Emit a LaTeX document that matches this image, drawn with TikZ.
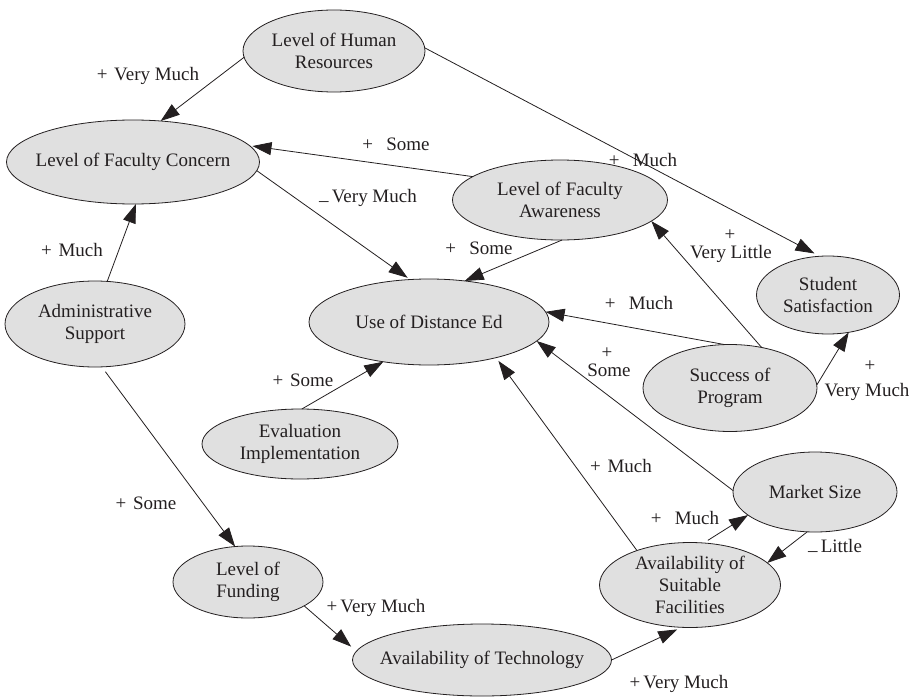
\documentclass[tikz,border=0pt]{standalone}
\usepackage{fontspec}
\setmainfont{Liberation Serif}
\usetikzlibrary{shapes.geometric,arrows.meta}
\definecolor{nodefill}{RGB}{224,224,224}
\definecolor{ink}{RGB}{35,31,32}
\newcommand{\sgn}{\hspace{0.35em}}
\newcommand{\minussign}{\raisebox{-0.22em}{–}}
\begin{document}
\begin{tikzpicture}[x=1pt,y=-1pt,
  bubble/.style={ellipse,draw=ink,line width=0.8pt,fill=nodefill,inner sep=0pt,outer sep=0pt},
  caption/.style={text=ink,align=center,font=\fontsize{19}{22}\selectfont,inner sep=0pt},
  lbl/.style={text=ink,font=\fontsize{19}{22}\selectfont,inner sep=0pt},
  link/.style={draw=ink,line width=0.8pt,-{Triangle[length=19pt,width=13pt]}},
]
\useasboundingbox (0,0) rectangle (923,698);

% factors
\node[bubble,minimum width=182pt,minimum height=82pt] (hr) at (334,51) {};
\node[caption] (hr-t) at (hr) {Level of Human\\Resources};
\node[bubble,minimum width=253pt,minimum height=84pt] (fc) at (133,162) {};
\node[caption] (fc-t) at (fc) {Level of Faculty Concern};
\node[bubble,minimum width=215pt,minimum height=80pt] (aw) at (560,200) {};
\node[caption] (aw-t) at (aw) {Level of Faculty\\Awareness};
\node[bubble,minimum width=143pt,minimum height=78pt] (ss) at (828,295) {};
\node[caption] (ss-t) at (ss) {Student\\Satisfaction};
\node[bubble,minimum width=180pt,minimum height=86pt] (as) at (95,324) {};
\node[caption] (as-t) at (as) {Administrative\\Support};
\node[bubble,minimum width=240pt,minimum height=86pt] (ude) at (429,322) {};
\node[caption] (ude-t) at (ude) {Use of Distance Ed};
\node[bubble,minimum width=174pt,minimum height=87pt] (sp) at (730,388) {};
\node[caption] (sp-t) at (sp) {Success of\\Program};
\node[bubble,minimum width=196pt,minimum height=70pt] (ei) at (300,444) {};
\node[caption] (ei-t) at (ei) {Evaluation\\Implementation};
\node[bubble,minimum width=164pt,minimum height=80pt] (ms) at (815,492) {};
\node[caption] (ms-t) at (ms) {Market Size};
\node[bubble,minimum width=150pt,minimum height=72pt] (lf) at (248,582) {};
\node[caption] (lf-t) at (lf) {Level of\\Funding};
\node[bubble,minimum width=181pt,minimum height=85pt] (asf) at (690,585) {};
\node[caption] (asf-t) at (asf) {Availability of\\Suitable\\Facilities};
\node[bubble,minimum width=259pt,minimum height=72pt] (at) at (482,660) {};
\node[caption] (at-t) at (at) {Availability of Technology};

% influences
\draw[link] (hr.184) -- (fc.56);
\draw[link,shorten >=3pt] (aw.165) -- (fc.8);
\draw[link,shorten >=3pt] (fc.-4) -- (ude.114);
\draw[link] (as.74) -- (fc.-86);
\draw[link,shorten <=6pt] (as.-81) -- (lf.110);
\draw[link] (ei.87) -- (ude.221);
\draw[link] (aw.-87) -- (ude.49);
\draw[link,shorten >=6pt] (hr.2) -- (ss.102);
\draw[link] (sp.52) -- (aw.-13);
\draw[link] (sp.97) -- (ude.5);
\draw[link] (ms.179) -- (ude.-10);
\draw[link,shorten >=4pt] (asf.147) -- (ude.-28);
\draw[link] (sp.2) -- (ss.-61);
\draw[link,shorten <=5pt] (asf.72) -- (ms.199);
\draw[link] (ms.259) -- (asf.16);
\draw[link,shorten >=7pt] (lf.-23) -- (at.176);
\draw[link,shorten >=5pt] (at.0) -- (asf.259);

% strengths
\node[lbl] (l-hrfc) at (148,76) {+\sgn Very Much};
\node[lbl] (l-awfc) at (396,144) {+\sgn\sgn Some};
\node[lbl] (l-fcude) at (368,198) {\minussign\,Very Much};
\node[lbl] (l-asfc) at (72,250) {+\sgn Much};
\node[lbl] (l-aslf) at (146,503) {+\sgn Some};
\node[lbl] (l-eiude) at (303,380) {+\sgn Some};
\node[lbl] (l-awude) at (479,248) {+\sgn\sgn Some};
\node[lbl] (l-hrss) at (643,160) {+\sgn\sgn Much};
\node[lbl] (l-spaw-s) at (730,235) {+};
\node[lbl] (l-spaw) at (731,254) {Very Little};
\node[lbl] (l-spude) at (639,303) {+\sgn\sgn Much};
\node[lbl] (l-msude-s) at (607,353) {+};
\node[lbl] (l-msude) at (609,370) {Some};
\node[lbl] (l-asfude) at (621,466) {+\sgn Much};
\node[lbl] (l-spss-s) at (870,366) {+};
\node[lbl] (l-spss) at (867,392) {Very Much};
\node[lbl] (l-asfms) at (685,518) {+\sgn\sgn Much};
\node[lbl] (l-msasf) at (835,548) {\minussign\,Little};
\node[lbl] (l-lfat) at (376,608) {+\,Very Much};
\node[lbl] (l-atasf) at (679,684) {+\,Very Much};
\end{tikzpicture}
\end{document}
